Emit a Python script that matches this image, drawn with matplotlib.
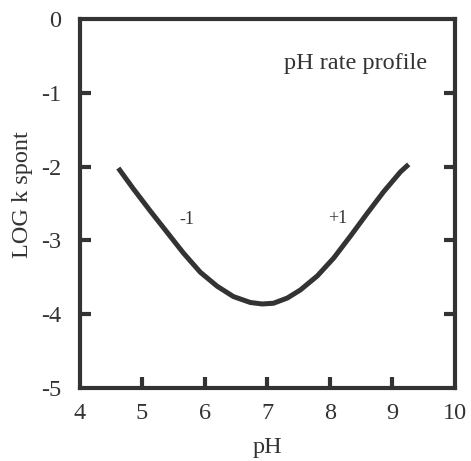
import matplotlib.pyplot as plt

# curve
ph = [4.62, 4.86, 5.13, 5.40, 5.66, 5.93, 6.20, 6.46, 6.73, 6.92, 7.10,
      7.32, 7.53, 7.80, 8.06, 8.33, 8.60, 8.86, 9.13, 9.26]
log_k = [-2.02, -2.30, -2.60, -2.89, -3.17, -3.43, -3.62, -3.76, -3.84, -3.86, -3.85,
         -3.78, -3.67, -3.48, -3.24, -2.94, -2.63, -2.34, -2.07, -1.97]

x_ticks = [4, 5, 6, 7, 8, 9, 10]
y_ticks = [0, -1, -2, -3, -4, -5]
slope_labels = ["-1", "+1"]
slope_pos = [(5.72, -2.72), (8.12, -2.70)]

ink = "#333333"
plt.rcParams["font.family"] = ["Liberation Serif", "DejaVu Serif"]
plt.rcParams["axes.unicode_minus"] = False

fig = plt.figure(figsize=(4.71, 4.61), dpi=100)
ax = fig.add_axes([0.1688, 0.158, 0.7972, 0.801])

ax.plot(ph, log_k, color=ink, linewidth=3.6, solid_capstyle="butt",
        solid_joinstyle="round")

ax.set_xlim(4, 10)
ax.set_ylim(-5, 0)

# labels on the major ticks, marks only on the inner ones
ax.xaxis.remove_overlapping_locs = False
ax.yaxis.remove_overlapping_locs = False
ax.set_xticks(x_ticks)
ax.set_yticks(y_ticks)
ax.set_xticks(x_ticks[1:-1], minor=True)
ax.set_yticks(y_ticks[1:-1], minor=True)
ax.tick_params(which="major", length=0, labelsize=17.5, labelcolor=ink)
ax.tick_params(axis="x", which="major", pad=11)
ax.tick_params(axis="y", which="major", pad=13)
ax.tick_params(which="minor", direction="in", length=8, width=3, color=ink)
ax.tick_params(axis="y", which="minor", right=True)

for s in ax.spines.values():
    s.set_linewidth(3)
    s.set_color(ink)

ax.set_xlabel("pH", fontsize=17.5, color=ink)
ax.xaxis.set_label_coords(0.5, -0.132)
ax.set_ylabel("LOG k spont", fontsize=17.5, color=ink)
ax.yaxis.set_label_coords(-0.125, 0.525)

for lab, (xx, yy) in zip(slope_labels, slope_pos):
    ax.text(xx, yy, lab, fontsize=13, color=ink, ha="center", va="center")

ax.text(9.56, -0.60, "pH rate profile", fontsize=17.5, color=ink, ha="right", va="center")

plt.savefig("out.png", dpi=100)
